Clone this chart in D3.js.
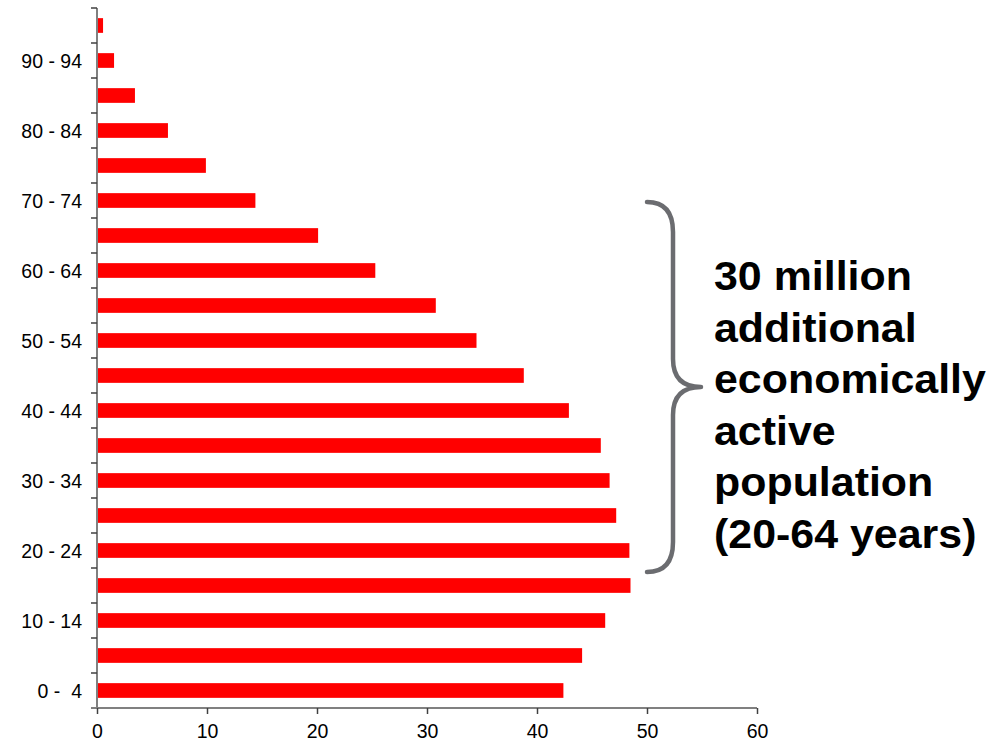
<!DOCTYPE html>
<html>
<head>
<meta charset="utf-8">
<script src="https://cdn.jsdelivr.net/npm/d3@7"></script>
<style>
  html, body { margin: 0; padding: 0; background: #fff; }
  svg { display: block; }
</style>
</head>
<body>
<svg id="chart" width="1003" height="745"></svg>
<script>
// Age groups, youngest first (plotted bottom to top)
const ageGroups = ["0 -  4", "5 - 9", "10 - 14", "15 - 19", "20 - 24", "25 - 29",
  "30 - 34", "35 - 39", "40 - 44", "45 - 49", "50 - 54", "55 - 59", "60 - 64",
  "65 - 69", "70 - 74", "75 - 79", "80 - 84", "85 - 89", "90 - 94", "95 - 99"];

// Population per age group (millions)
const population = [42.4, 44.1, 46.2, 48.5, 48.4, 47.2, 46.6, 45.8, 42.9, 38.8,
  34.5, 30.8, 25.3, 20.1, 14.4, 9.9, 6.45, 3.45, 1.55, 0.55];

// Only every other age group gets a label
const labelledGroups = ["0 -  4", "10 - 14", "20 - 24", "30 - 34", "40 - 44",
  "50 - 54", "60 - 64", "70 - 74", "80 - 84", "90 - 94"];

const xTicks = [0, 10, 20, 30, 40, 50, 60];

const annotationLines = ["30 million", "additional", "economically", "active",
  "population", "(20-64 years)"];

const svg = d3.select("#chart");
const font = "'Liberation Sans', Arial, Helvetica, sans-serif";

const plotLeft = 97, plotRight = 757, plotTop = 8, plotBottom = 708;

const x = d3.scaleLinear().domain([0, 60]).range([plotLeft, plotRight]);
const y = d3.scaleBand().domain(ageGroups).range([plotBottom, plotTop])
  .paddingInner(0.58).paddingOuter(0.29);
// Same bands without padding, for the category boundary ticks
const yBand = d3.scaleBand().domain(ageGroups).range([plotBottom, plotTop]);

// Bars
svg.append("g").selectAll("rect")
  .data(ageGroups)
  .join("rect")
  .attr("x", x(0))
  .attr("y", d => y(d))
  .attr("width", (d, i) => x(population[i]) - x(0))
  .attr("height", y.bandwidth())
  .attr("fill", "#ff0000");

// Y axis: line, boundary ticks, labels
const yAxis = svg.append("g");
yAxis.append("line")
  .attr("x1", plotLeft).attr("x2", plotLeft).attr("y1", plotTop).attr("y2", plotBottom)
  .attr("stroke", "#808080").attr("stroke-width", 2);
const boundaries = ageGroups.map(d => yBand(d)).concat([plotBottom]);
yAxis.selectAll("line.tick").data(boundaries).join("line")
  .attr("class", "tick")
  .attr("x1", plotLeft - 6).attr("x2", plotLeft)
  .attr("y1", d => d).attr("y2", d => d)
  .attr("stroke", "#404040").attr("stroke-width", 1.5);
yAxis.selectAll("text").data(labelledGroups).join("text")
  .attr("x", 82)
  .attr("y", d => yBand(d) + yBand.bandwidth() / 2)
  .attr("dy", "0.36em")
  .attr("text-anchor", "end")
  .attr("font-family", font)
  .attr("font-size", 19.5)
  .attr("fill", "#000")
  .style("white-space", "pre")
  .text(d => d);

// X axis
const xAxis = svg.append("g")
  .attr("transform", `translate(0,${plotBottom})`)
  .call(d3.axisBottom(x).tickValues(xTicks).tickSize(6).tickSizeOuter(0).tickPadding(10));
xAxis.select(".domain").attr("stroke", "#808080").attr("stroke-width", 2)
  .attr("d", `M${plotLeft - 6},0H${plotRight}`);
xAxis.selectAll(".tick line").attr("stroke", "#404040").attr("stroke-width", 1.5);
xAxis.selectAll(".tick text")
  .attr("font-family", font).attr("font-size", 19.5).attr("fill", "#000");

// Brace spanning the working-age bars
const braceTop = 202, braceBottom = 572, braceMid = 387;
const bx0 = 647, bxs = 673, bxp = 701;
const brace = d3.path();
brace.moveTo(bx0, braceTop);
brace.quadraticCurveTo(bxs, braceTop, bxs, braceTop + 30);
brace.lineTo(bxs, braceMid - 28);
brace.quadraticCurveTo(bxs, braceMid, bxp, braceMid);
brace.quadraticCurveTo(bxs, braceMid, bxs, braceMid + 28);
brace.lineTo(bxs, braceBottom - 30);
brace.quadraticCurveTo(bxs, braceBottom, bx0, braceBottom);
svg.append("path")
  .attr("d", brace.toString())
  .attr("fill", "none")
  .attr("stroke", "#6b6c70")
  .attr("stroke-width", 4.5)
  .attr("stroke-linecap", "round")
  .attr("stroke-linejoin", "round");

// Annotation text, slightly widened
svg.append("g")
  .attr("transform", "translate(714,0) scale(1.06,1)")
  .selectAll("text").data(annotationLines).join("text")
  .attr("x", 0)
  .attr("y", (d, i) => 290 + i * 51.6)
  .attr("font-family", font)
  .attr("font-weight", "bold")
  .attr("font-size", 40.5)
  .attr("fill", "#000")
  .text(d => d);
</script>
</body>
</html>
